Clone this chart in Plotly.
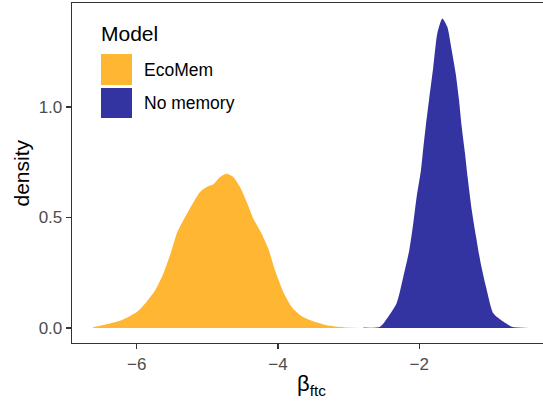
import plotly.graph_objects as go

# ---- data ----
series_names = ["EcoMem", "No memory"]

ecomem_x = [-6.616, -6.45, -6.262, -6.12, -6.0, -5.884, -5.742, -5.625, -5.53, -5.435,
            -5.341, -5.222, -5.105, -5.01, -4.916, -4.822, -4.727, -4.633, -4.538, -4.443,
            -4.35, -4.231, -4.137, -4.042, -3.925, -3.806, -3.664, -3.5, -3.31, -3.075, -2.84]
ecomem_y = [0.005, 0.015, 0.030, 0.050, 0.072, 0.110, 0.170, 0.246, 0.329, 0.427,
            0.487, 0.555, 0.615, 0.638, 0.650, 0.683, 0.698, 0.683, 0.638, 0.570,
            0.495, 0.427, 0.359, 0.261, 0.163, 0.095, 0.053, 0.030, 0.012, 0.003, 0.0]

nomem_x = [-2.79, -2.555, -2.438, -2.32, -2.225, -2.14, -2.084, -2.036, -1.975, -1.95,
           -1.908, -1.861, -1.80, -1.744, -1.673, -1.602, -1.54, -1.483, -1.436, -1.398,
           -1.351, -1.313, -1.256, -1.195, -1.129, -1.054, -0.95, -0.81, -0.69, -0.43]
nomem_y = [0.002, 0.006, 0.051, 0.112, 0.232, 0.353, 0.474, 0.594, 0.715, 0.79,
           0.911, 1.032, 1.182, 1.333, 1.401, 1.363, 1.258, 1.152, 1.032, 0.911,
           0.79, 0.68, 0.534, 0.413, 0.293, 0.187, 0.067, 0.029, 0.006, 0.0]

x_ticks = [-6, -4, -2]
y_ticks = [0.0, 0.5, 1.0]

colors = ["rgba(255,165,0,0.8)", "rgba(0,0,139,0.8)"]

# ---- figure ----
W, H = 543, 402
ML, MR, MT, MB = 72, 0, 3, 59
PW, PH = W - ML - MR, H - MT - MB

def px_x(p):
    return (p - ML) / PW

def px_y(p):
    return (H - MB - p) / PH

FONT = "Liberation Sans, Arial, Helvetica, sans-serif"

fig = go.Figure()
for name, xs, ys, c in [(series_names[0], ecomem_x, ecomem_y, colors[0]),
                        (series_names[1], nomem_x, nomem_y, colors[1])]:
    fig.add_trace(go.Scatter(x=xs, y=ys, mode="lines", fill="tozeroy",
                             fillcolor=c, line=dict(width=0, color=c, shape="spline", smoothing=0.6),
                             name=name, showlegend=False, hoverinfo="skip"))

axis_col = "#333333"
fig.update_xaxes(range=[-6.918, -0.2465], tickvals=x_ticks, ticks="outside", ticklen=5,
                 tickwidth=1.2, tickcolor=axis_col, showline=True, mirror=True,
                 linecolor=axis_col, linewidth=1.3, showgrid=False, zeroline=False,
                 tickfont=dict(family=FONT, size=17, color="#4D4D4D"))
fig.update_yaxes(range=[-0.0679, 1.4706], tickvals=y_ticks, tickformat=".1f",
                 ticks="outside", ticklen=5, tickwidth=1.2, tickcolor=axis_col,
                 showline=True, mirror=False, linecolor=axis_col, linewidth=1.3,
                 showgrid=False, zeroline=False,
                 tickfont=dict(family=FONT, size=17, color="#4D4D4D"))

shapes = [
    dict(type="rect", xref="paper", yref="paper", x0=px_x(101), x1=px_x(132),
         y0=px_y(85), y1=px_y(54), fillcolor=colors[0], line=dict(width=0)),
    dict(type="rect", xref="paper", yref="paper", x0=px_x(101), x1=px_x(132),
         y0=px_y(118), y1=px_y(88), fillcolor=colors[1], line=dict(width=0)),
]

annotations = [
    dict(text="Model", xref="paper", yref="paper", x=px_x(99), y=px_y(33),
         xanchor="left", yanchor="middle", showarrow=False,
         font=dict(family=FONT, size=21, color="black")),
    dict(text=series_names[0], xref="paper", yref="paper", x=px_x(142), y=px_y(70),
         xanchor="left", yanchor="middle", showarrow=False,
         font=dict(family=FONT, size=17.5, color="black")),
    dict(text=series_names[1], xref="paper", yref="paper", x=px_x(142), y=px_y(103.5),
         xanchor="left", yanchor="middle", showarrow=False,
         font=dict(family=FONT, size=17.5, color="black")),
    dict(text="density", xref="paper", yref="paper", x=px_x(20.5), y=px_y(173),
         xanchor="center", yanchor="middle", textangle=-90, showarrow=False,
         font=dict(family=FONT, size=21, color="black")),
    dict(text="β<sub>ftc</sub>", xref="paper", yref="paper", x=px_x(311), y=px_y(385),
         xanchor="center", yanchor="middle", showarrow=False,
         font=dict(family=FONT, size=22, color="black")),
]

fig.update_layout(width=W, height=H, autosize=False,
                  margin=dict(l=ML, r=MR, t=MT, b=MB, pad=0),
                  plot_bgcolor="white", paper_bgcolor="white",
                  shapes=shapes, annotations=annotations, showlegend=False)

fig.write_html("out.html", config={"displayModeBar": False, "staticPlot": True},
               post_script="document.body.style.margin='0';document.body.style.overflow='hidden';")
